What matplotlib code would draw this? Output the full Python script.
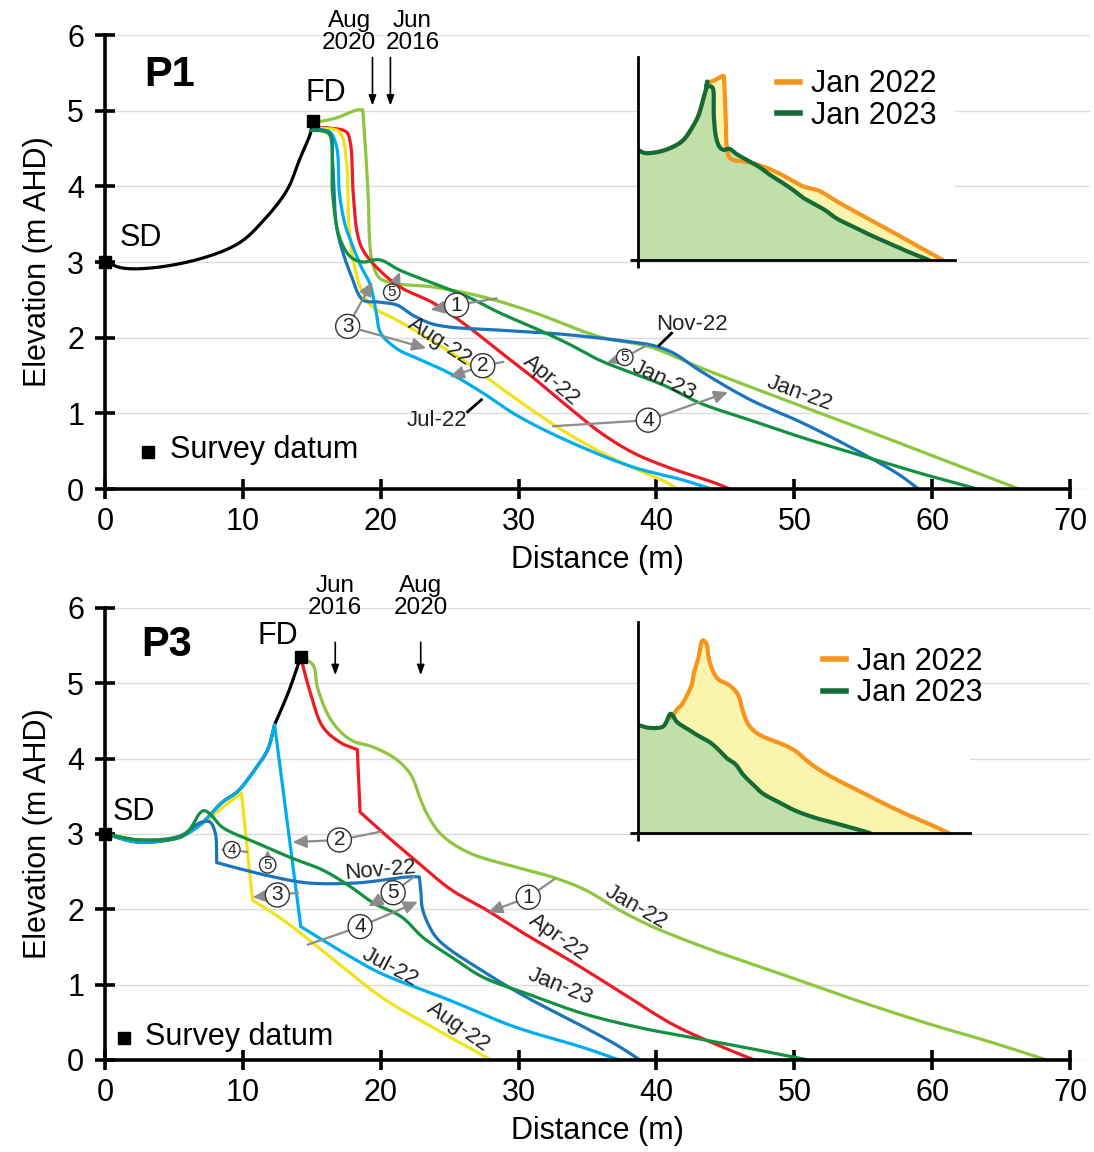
import matplotlib
matplotlib.use('Agg')
import matplotlib.pyplot as plt
from matplotlib.lines import Line2D
import numpy as np

plt.rcParams['font.family'] = ['Liberation Sans', 'DejaVu Sans']

# survey colours
c_dune = 'black'
c_jan22 = '#8dc63f'
c_apr22 = '#ed1c24'
c_jul22 = '#00aeef'
c_aug22 = '#f2e21c'
c_nov22 = '#1b75bc'
c_jan23 = '#139141'
grey = '#8c8c8c'

# ---------------- P1 profiles (distance m, elevation m AHD) ----------------
p1_dune_x = [0, 1.3, 3.8, 7.4, 9.8, 11.5, 13.2, 14.1, 14.9, 15.1]
p1_dune_y = [3.0, 2.92, 2.93, 3.07, 3.26, 3.55, 3.95, 4.35, 4.70, 4.86]

p1_jan22_x = [15.1, 16.7, 18.3, 18.7, 18.9, 19.1, 19.2, 19.4, 19.9, 20.9, 23.8, 27.4, 31.0,
              35.9, 39.5, 43.1, 46.8, 56.0, 66.3]
p1_jan22_y = [4.84, 4.90, 5.01, 5.01, 4.48, 3.82, 3.25, 2.99, 2.79, 2.72, 2.67, 2.54, 2.34,
              2.01, 1.88, 1.61, 1.35, 0.72, 0.0]

p1_apr22_x = [15.2, 16.3, 17.5, 17.8, 18.0, 18.3, 18.7, 19.7, 21.4, 23.8, 26.3, 28.6, 31.0,
              33.5, 35.9, 38.3, 40.8, 44.4, 45.3]
p1_apr22_y = [4.78, 4.77, 4.72, 4.57, 3.91, 3.38, 3.16, 2.93, 2.67, 2.46, 2.15, 1.82, 1.48,
              1.10, 0.75, 0.48, 0.29, 0.07, 0.0]

p1_aug22_x = [15.6, 17.0, 17.5, 17.7, 18.1, 18.7, 19.4, 21.2, 23.6, 26.0, 28.6, 31.0, 33.5,
              37.1, 40.8, 41.5]
p1_aug22_y = [4.77, 4.72, 4.35, 3.46, 2.93, 2.59, 2.41, 2.23, 1.97, 1.70, 1.35, 1.04, 0.74,
              0.38, 0.08, 0.0]

p1_jul22_x = [15.4, 16.3, 16.8, 17.0, 17.4, 17.8, 18.6, 19.2, 19.5, 19.7, 20.0, 21.2, 22.6,
              25.0, 27.4, 29.9, 33.5, 38.3, 41.9, 44.0]
p1_jul22_y = [4.74, 4.72, 4.52, 3.91, 3.50, 3.29, 2.93, 2.72, 2.50, 2.30, 2.06, 1.85, 1.73,
              1.53, 1.27, 0.97, 0.64, 0.29, 0.12, 0.0]

p1_nov22_x = [15.1, 16.3, 16.5, 16.8, 17.3, 17.8, 18.7, 19.9, 21.2, 22.3, 23.6, 25.0,
              28.6, 33.5, 38.3, 39.7, 41.2, 43.1, 46.8, 50.4, 54.0, 57.6, 59.0]
p1_nov22_y = [4.77, 4.70, 4.35, 3.46, 3.10, 2.85, 2.50, 2.47, 2.43, 2.30, 2.19, 2.14,
              2.10, 2.04, 1.94, 1.90, 1.80, 1.57, 1.18, 0.89, 0.56, 0.19, 0.0]

p1_jan23_x = [14.9, 15.8, 16.3, 16.5, 17.0, 17.8, 18.7, 19.9, 21.4, 23.8, 26.3, 28.6, 31.0,
              33.5, 35.9, 38.3, 40.8, 43.1, 46.8, 50.4, 54.7, 59.1, 63.3]
p1_jan23_y = [4.74, 4.73, 4.68, 3.91, 3.33, 3.07, 3.00, 3.03, 2.89, 2.72, 2.54, 2.33, 2.14,
              1.93, 1.70, 1.53, 1.35, 1.14, 0.91, 0.69, 0.45, 0.21, 0.0]

# ---------------- P3 profiles ----------------
p3_dune_x = [0, 2.5, 5.4, 6.9, 8.5, 9.6, 10.7, 11.8, 12.3, 13.3, 14.2]
p3_dune_y = [3.0, 2.89, 2.96, 3.12, 3.42, 3.56, 3.81, 4.12, 4.45, 4.88, 5.35]

p3_jan22_x = [14.2, 15.1, 15.4, 16.4, 17.8, 19.5, 21.2, 22.2, 22.9, 23.4, 24.4, 26.4, 30.0,
              32.4, 34.8, 37.3, 39.7, 43.4, 49.2, 55.0, 60.1, 64.2, 68.3]
p3_jan22_y = [5.35, 5.24, 4.95, 4.51, 4.25, 4.15, 3.98, 3.78, 3.45, 3.25, 2.99, 2.75, 2.55,
              2.43, 2.26, 1.99, 1.77, 1.50, 1.13, 0.76, 0.46, 0.24, 0.0]

p3_apr22_x = [14.2, 14.3, 14.9, 15.8, 17.1, 18.3, 18.5, 20.2, 22.7, 25.1, 27.5, 30.2, 33.9,
              37.5, 41.2, 44.8, 47.1]
p3_apr22_y = [5.35, 5.27, 4.87, 4.42, 4.21, 4.12, 3.29, 3.01, 2.62, 2.26, 2.01, 1.70, 1.30,
              0.89, 0.47, 0.17, 0.0]

p3_jul22_x = [0, 2.5, 5.4, 6.9, 8.5, 9.6, 10.7, 11.8, 12.3, 14.2, 17.8, 20.0, 24.9, 29.7,
              34.6, 37.3]
p3_jul22_y = [3.0, 2.89, 2.96, 3.12, 3.42, 3.56, 3.81, 4.12, 4.45, 1.77, 1.37, 1.15, 0.80,
              0.44, 0.17, 0.0]

p3_aug22_x = [0, 2.5, 5.4, 6.9, 8.5, 9.9, 10.7, 12.9, 16.6, 20.0, 23.6, 28.0]
p3_aug22_y = [3.0, 2.92, 2.97, 3.11, 3.35, 3.54, 2.12, 1.86, 1.33, 0.84, 0.45, 0.0]

p3_nov22_x = [0, 2.5, 5.4, 6.9, 7.6, 8.0, 8.1, 9.3, 12.2, 14.7, 18.3, 22.0, 22.8, 22.9, 23.0,
              23.4, 24.2, 27.3, 30.6, 34.4, 37.1, 38.8]
p3_nov22_y = [3.0, 2.92, 2.97, 3.15, 3.16, 3.01, 2.62, 2.56, 2.43, 2.35, 2.35, 2.43, 2.43,
              2.26, 2.03, 1.82, 1.59, 1.19, 0.83, 0.47, 0.20, 0.0]

p3_jan23_x = [0, 2.5, 5.4, 6.1, 6.9, 7.2, 7.7, 8.5, 11.0, 13.4, 15.8, 17.8, 19.5, 21.5, 23.1,
              25.1, 27.4, 30.6, 34.6, 39.0, 42.5, 46.3, 51.0]
p3_jan23_y = [3.0, 2.92, 2.95, 3.05, 3.28, 3.31, 3.25, 3.09, 2.88, 2.69, 2.52, 2.30, 2.08,
              1.90, 1.62, 1.37, 1.10, 0.88, 0.62, 0.42, 0.30, 0.17, 0.0]

x_ticks = [0, 10, 20, 30, 40, 50, 60, 70]
y_ticks = [0, 1, 2, 3, 4, 5, 6]


def catmull(p, n=16):
    # centripetal Catmull-Rom through the read points (drawing only, no new data)
    if len(p) < 3:
        return p
    p = np.vstack([2 * p[0] - p[1], p, 2 * p[-1] - p[-2]])
    out = [p[1]]
    for i in range(1, len(p) - 2):
        P0, P1, P2, P3 = p[i - 1], p[i], p[i + 1], p[i + 2]
        t0 = 0.0
        t1 = t0 + np.linalg.norm(P1 - P0) ** 0.5
        t2 = t1 + np.linalg.norm(P2 - P1) ** 0.5
        t3 = t2 + np.linalg.norm(P3 - P2) ** 0.5
        t = np.linspace(t1, t2, n)[1:, None]
        A1 = (t1 - t) / (t1 - t0) * P0 + (t - t0) / (t1 - t0) * P1
        A2 = (t2 - t) / (t2 - t1) * P1 + (t - t1) / (t2 - t1) * P2
        A3 = (t3 - t) / (t3 - t2) * P2 + (t - t2) / (t3 - t2) * P3
        B1 = (t2 - t) / (t2 - t0) * A1 + (t - t0) / (t2 - t0) * A2
        B2 = (t3 - t) / (t3 - t1) * A2 + (t - t1) / (t3 - t1) * A3
        C = (t2 - t) / (t2 - t1) * B1 + (t - t1) / (t2 - t1) * B2
        out.extend(C)
    return np.array(out)


def smooth(x, y, corners=(), yscale=5.5):
    p = np.column_stack([np.asarray(x, float), np.asarray(y, float) * yscale])
    cuts = [0] + sorted(corners) + [len(p) - 1]
    parts = []
    for a, b in zip(cuts[:-1], cuts[1:]):
        seg = p[a:b + 1]
        keep = np.r_[True, np.hypot(*np.diff(seg, axis=0).T) > 1e-6]
        seg = catmull(seg[keep])
        parts.append(seg if not parts else seg[1:])
    out = np.vstack(parts)
    return out[:, 0], out[:, 1] / yscale


fig = plt.figure(figsize=(10.94, 11.52), dpi=100)
ax1 = fig.add_axes([0.0960, 0.5755, 0.9004, 0.3941])
ax3 = fig.add_axes([0.0960, 0.0799, 0.9004, 0.3924])


def style_axes(ax):
    ax.set_xlim(0, 71.45)
    ax.set_ylim(0, 6)
    ax.set_xticks(x_ticks)
    ax.set_yticks(y_ticks)
    for s in ['top', 'right']:
        ax.spines[s].set_visible(False)
    for s in ['left', 'bottom']:
        ax.spines[s].set_linewidth(2.6)
    ax.spines['bottom'].set_bounds(0, 70)
    ax.tick_params(direction='inout', length=14, width=2.6, labelsize=22)
    ax.tick_params(axis='y', pad=8)
    ax.tick_params(axis='x', pad=6)
    ax.grid(axis='y', color='#dcdcdc', lw=1)
    ax.set_axisbelow(True)
    ax.set_xlabel('Distance (m)', fontsize=22, labelpad=6)
    ax.set_ylabel('Elevation (m AHD)', fontsize=22, labelpad=10)


def circ(ax, num, c, heads, tail=None, small=False):
    fs = 11 if small else 15
    pad = 0.08 if small else 0.12
    if tail is not None:
        ax.annotate('', xy=tail, xytext=c,
                    arrowprops=dict(arrowstyle='-', color=grey, lw=1.6, shrinkA=9 if not small else 7, shrinkB=0))
    for i, h in enumerate(heads):
        ax.annotate(str(num) if i == 0 else '', xy=h, xytext=c, ha='center', va='center', fontsize=fs,
                    color='#222222', zorder=10,
                    bbox=dict(boxstyle='circle,pad=%s' % pad, fc='white', ec='#333333', lw=1) if i == 0 else None,
                    arrowprops=dict(arrowstyle='-|>,head_length=0.55,head_width=0.25', color=grey, lw=1.6,
                                    shrinkA=0 if i == 0 else 9, shrinkB=0))


def tag(ax, txt, x, y, rot):
    ax.text(x, y, txt, fontsize=16, rotation=rot, ha='center', va='center', color='#222222',
            rotation_mode='anchor', zorder=9)


def line(ax, x, y, color, corners=()):
    sx, sy = smooth(x, y, corners)
    ax.plot(sx, sy, color=color, lw=2.3, solid_capstyle='round', solid_joinstyle='round')


# ---------------- P1 ----------------
style_axes(ax1)
line(ax1, p1_dune_x, p1_dune_y, c_dune)
line(ax1, p1_jan22_x, p1_jan22_y, c_jan22, corners=[3])
line(ax1, p1_apr22_x, p1_apr22_y, c_apr22)
line(ax1, p1_aug22_x, p1_aug22_y, c_aug22)
line(ax1, p1_jul22_x, p1_jul22_y, c_jul22)
line(ax1, p1_nov22_x, p1_nov22_y, c_nov22)
line(ax1, p1_jan23_x, p1_jan23_y, c_jan23)

ax1.plot([p1_dune_x[0]], [p1_dune_y[0]], 's', color='black', ms=9, clip_on=False, zorder=8)
ax1.plot([p1_dune_x[-1]], [p1_dune_y[-1]], 's', color='black', ms=9, zorder=8)
ax1.text(4.7, 5.47, 'P1', fontsize=30, fontweight='bold', ha='center', va='center')
ax1.text(16.0, 5.23, 'FD', fontsize=22, ha='center', va='center')
ax1.text(2.6, 3.32, 'SD', fontsize=22, ha='center', va='center')
ax1.plot([3.1], [0.49], 's', color='black', ms=8)
ax1.text(4.7, 0.51, 'Survey datum', fontsize=22, ha='left', va='center')

ax1.annotate('', xy=(19.4, 5.03), xytext=(19.4, 5.74),
             arrowprops=dict(arrowstyle='-|>,head_length=0.6,head_width=0.22', color='black', lw=1.2))
ax1.annotate('', xy=(20.7, 5.03), xytext=(20.7, 5.74),
             arrowprops=dict(arrowstyle='-|>,head_length=0.6,head_width=0.22', color='black', lw=1.2))
ax1.text(17.7, 6.04, 'Aug\n2020', fontsize=17.5, ha='center', va='center', linespacing=1.0)
ax1.text(22.3, 6.04, 'Jun\n2016', fontsize=17.5, ha='center', va='center', linespacing=1.0)

tag(ax1, 'Nov-22', 42.6, 2.17, 0)
ax1.plot([40.2, 41.1], [1.90, 2.06], color='black', lw=2)
tag(ax1, 'Jan-23', 40.5, 1.44, -25)
tag(ax1, 'Jan-22', 50.4, 1.26, -20)
tag(ax1, 'Apr-22', 32.4, 1.44, -40)
tag(ax1, 'Aug-22', 24.3, 1.94, -33)
tag(ax1, 'Jul-22', 24.1, 0.91, 0)
ax1.plot([26.3, 27.3], [1.02, 1.18], color='black', lw=2)

circ(ax1, 1, (25.5, 2.43), [(23.6, 2.37)], tail=(28.4, 2.52))
circ(ax1, 2, (27.4, 1.63), [(25.0, 1.48)], tail=(28.9, 1.68))
circ(ax1, 3, (17.6, 2.15), [(19.4, 2.74), (23.3, 1.86)])
circ(ax1, 4, (39.4, 0.91), [(45.2, 1.28)], tail=(32.5, 0.83))
circ(ax1, 5, (20.8, 2.60), [(21.4, 2.87)], small=True)
circ(ax1, 5, (37.7, 1.74), [(36.4, 1.67)], tail=(39.3, 1.90), small=True)

# ---------------- P3 ----------------
style_axes(ax3)
line(ax3, p3_dune_x, p3_dune_y, c_dune, corners=[8])
line(ax3, p3_jan22_x, p3_jan22_y, c_jan22)
line(ax3, p3_apr22_x, p3_apr22_y, c_apr22, corners=[5, 6])
line(ax3, p3_aug22_x, p3_aug22_y, c_aug22, corners=[5, 6])
line(ax3, p3_jul22_x, p3_jul22_y, c_jul22, corners=[8, 9])
line(ax3, p3_nov22_x, p3_nov22_y, c_nov22, corners=[6, 12])
line(ax3, p3_jan23_x, p3_jan23_y, c_jan23)

ax3.plot([p3_dune_x[0]], [p3_dune_y[0]], 's', color='black', ms=9, clip_on=False, zorder=8)
ax3.plot([p3_dune_x[-1]], [p3_dune_y[-1]], 's', color='black', ms=9, zorder=8)
ax3.text(4.5, 5.51, 'P3', fontsize=30, fontweight='bold', ha='center', va='center')
ax3.text(12.5, 5.63, 'FD', fontsize=22, ha='center', va='center')
ax3.text(2.1, 3.29, 'SD', fontsize=22, ha='center', va='center')
ax3.plot([1.4], [0.29], 's', color='black', ms=8)
ax3.text(2.9, 0.31, 'Survey datum', fontsize=22, ha='left', va='center')

ax3.annotate('', xy=(16.7, 5.07), xytext=(16.7, 5.58),
             arrowprops=dict(arrowstyle='-|>,head_length=0.6,head_width=0.22', color='black', lw=1.2))
ax3.annotate('', xy=(22.9, 5.07), xytext=(22.9, 5.58),
             arrowprops=dict(arrowstyle='-|>,head_length=0.6,head_width=0.22', color='black', lw=1.2))
ax3.text(16.7, 6.15, 'Jun\n2016', fontsize=17.5, ha='center', va='center', linespacing=1.0)
ax3.text(22.9, 6.15, 'Aug\n2020', fontsize=17.5, ha='center', va='center', linespacing=1.0)

tag(ax3, 'Nov-22', 20.0, 2.52, 5)
tag(ax3, 'Jan-22', 38.5, 2.03, -30)
tag(ax3, 'Apr-22', 32.9, 1.62, -35)
tag(ax3, 'Jan-23', 33.0, 0.97, -22)
tag(ax3, 'Jul-22', 20.7, 1.23, -28)
tag(ax3, 'Aug-22', 25.6, 0.44, -35)

circ(ax3, 1, (30.7, 2.16), [(27.8, 1.96)], tail=(32.6, 2.40))
circ(ax3, 2, (17.0, 2.92), [(13.6, 2.89)], tail=(20.0, 3.03))
circ(ax3, 3, (12.5, 2.19), [(10.7, 2.16)], tail=(14.0, 2.22))
circ(ax3, 4, (9.2, 2.79), [(8.5, 2.79)], tail=(10.3, 2.76), small=True)
circ(ax3, 5, (11.8, 2.59), [(11.8, 2.79)], small=True)
circ(ax3, 4, (18.5, 1.77), [(22.7, 2.10)], tail=(14.7, 1.53))
circ(ax3, 5, (20.9, 2.22), [(19.1, 2.04)], tail=(22.4, 2.43))

# ---------------- insets: Jan 2022 vs Jan 2023 ----------------
c_old = '#f7941d'
c_new = '#136b35'
f_old = '#fbf4ad'
f_new = '#c1dfa9'


def inset(rect, a, b, xmax, ymax, start_old, leg_anchor):
    ax = fig.add_axes(rect)
    ax.set_facecolor('white')
    ax.set_xlim(0, xmax)
    ax.set_ylim(0, ymax)
    ax_, ay_ = a
    bx_, by_ = b
    ax.fill(np.r_[ax_, ax_[-1], ax_[0]], np.r_[ay_, 0, 0], color=f_old, lw=0)
    ax.fill(np.r_[bx_, bx_[-1], bx_[0]], np.r_[by_, 0, 0], color=f_new, lw=0)
    m = ax_ >= start_old
    ax.plot(ax_[m], ay_[m], color=c_old, lw=3, solid_capstyle='round')
    ax.plot(bx_, by_, color=c_new, lw=3, solid_capstyle='round')
    for s in ['top', 'right']:
        ax.spines[s].set_visible(False)
    for s in ['left', 'bottom']:
        ax.spines[s].set_linewidth(2)
    ax.set_xticks([0])
    ax.set_yticks([0])
    ax.tick_params(direction='out', length=6, width=2, labelleft=False, labelbottom=False)
    h = [Line2D([], [], color=c_old, lw=4), Line2D([], [], color=c_new, lw=4)]
    ax.legend(h, ['Jan 2022', 'Jan 2023'], loc='upper left', bbox_to_anchor=leg_anchor, frameon=False,
              fontsize=22, handlelength=0.75, handletextpad=0.35, labelspacing=0.05, borderaxespad=0)
    return ax


inset([0.5832, 0.7743, 0.2898, 0.1762],
      smooth(p1_dune_x + p1_jan22_x, p1_dune_y + p1_jan22_y, corners=[len(p1_dune_x) + 3]),
      smooth(p1_dune_x + p1_jan23_x, p1_dune_y + p1_jan23_y),
      69, 5.53, 0, (0.40, 1.0))
inset([0.5832, 0.2769, 0.3035, 0.1832],
      smooth(p3_dune_x + p3_jan22_x, p3_dune_y + p3_jan22_y),
      smooth(p3_jan23_x, p3_jan23_y),
      73, 5.86, 7.3, (0.52, 0.94))

fig.savefig('out.png', dpi=100)
